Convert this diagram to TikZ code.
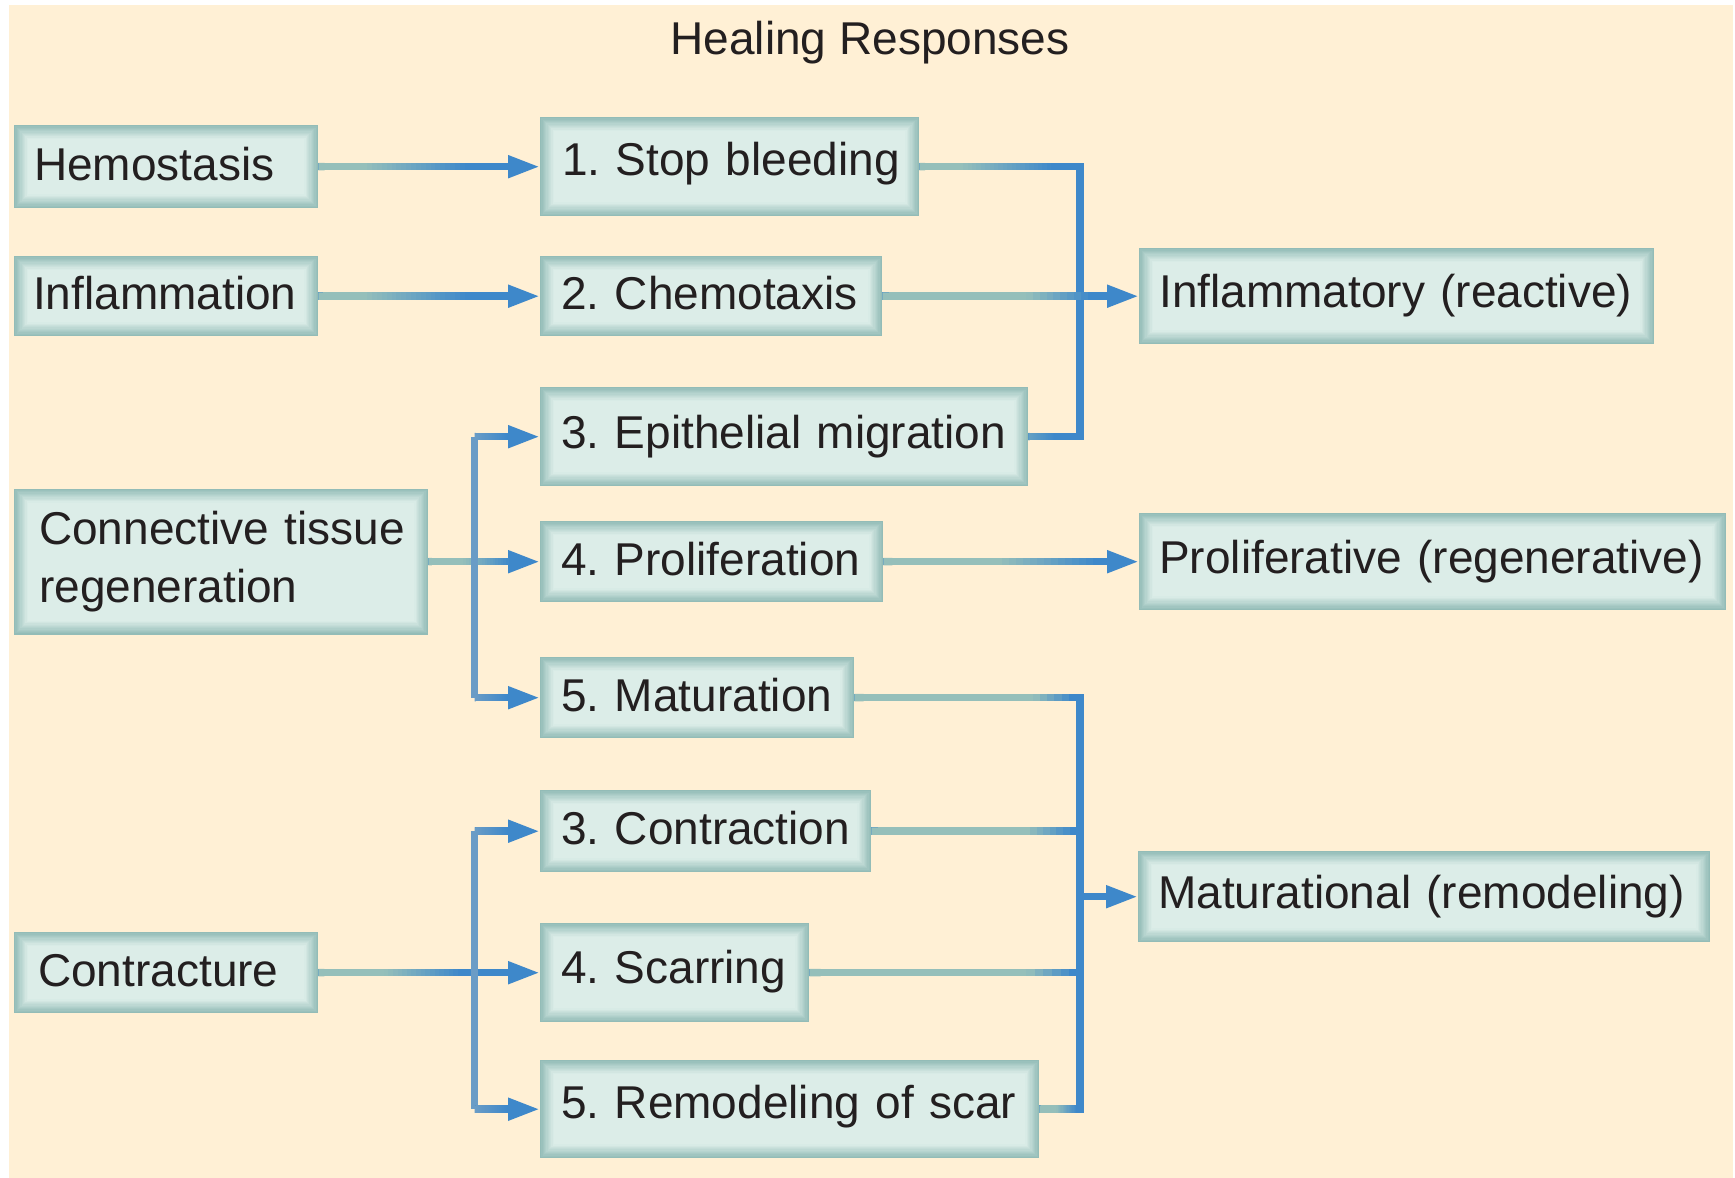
\documentclass[tikz,border=0pt]{standalone}
\usepackage{fontspec}
\setmainfont{Liberation Sans}
\usetikzlibrary{arrows.meta,calc}
\hyphenpenalty=10000
\exhyphenpenalty=10000
\frenchspacing
\definecolor{cream}{HTML}{FFF0D5}
\definecolor{boxin}{HTML}{DCEDE8}
\definecolor{boxedge}{HTML}{93BCB7}
\definecolor{lineteal}{HTML}{95BFBA}
\definecolor{lineblue}{HTML}{3E88CA}
\definecolor{busLcol}{HTML}{6A9CC6}
\definecolor{textc}{HTML}{231F20}
\newcommand{\bigfont}{\fontsize{46pt}{58pt}\selectfont\frenchspacing}
\newcommand{\boxbevel}{%
  \foreach \k in {0,...,10}{%
    \pgfmathtruncatemacro{\pc}{100-\k*9.5}%
    \draw[line width=1.4pt, draw=boxedge!\pc!boxin]
      ([xshift=\k*1.25pt+0.7pt, yshift=-\k*1.25pt-0.7pt]path picture bounding box.north west) rectangle
      ([xshift=-\k*1.25pt-0.7pt, yshift=\k*1.25pt+0.7pt]path picture bounding box.south east);
  }}
\newcommand{\gradline}[5][lineteal]{%
  \foreach \i in {0,...,29}{%
    \pgfmathsetmacro{\ta}{#5*\i/30}%
    \pgfmathsetmacro{\tb}{#5*min(30,\i+1.3)/30}%
    \pgfmathtruncatemacro{\pc}{max(0,min(100,(#5-\ta)/(#5-#4)*100))}%
    \draw[line width=7.5pt, draw=#1!\pc!lineblue] ($(#2)!\ta!(#3)$) -- ($(#2)!\tb!(#3)$);
  }}
\tikzset{
  boxbase/.style n args={3}{rectangle, fill=boxin, inner ysep=0pt, inner xsep=20pt,
    minimum width=#1pt, minimum height=#2pt, text width=#3pt, align=left,
    anchor=north west, font=\bigfont, text=textc, path picture={\boxbevel}},
  box/.style n args={3}{boxbase={#1}{#2}{#3}, text height=33pt, text depth=6pt},
  arr/.style={draw=lineblue, line width=7.5pt, -{Triangle[length=32pt,width=21pt]}},
  busline/.style={draw=lineblue, line width=7.5pt, line join=miter},
}
\begin{document}
\begin{tikzpicture}[x=1pt,y=-1pt]
\useasboundingbox (0,0) rectangle (1735,1178);
\fill[white] (0,0) rectangle (1735,1178);
\fill[cream] (9,5) rectangle (1733,1178);

\node[font=\bigfont, text=textc, text height=33pt, text depth=0pt, inner sep=0pt] (title) at (870,38) {Healing Responses};

% left column
\node[box={304}{83}{264}] (hemo) at (14,125) {\mbox{Hemostasis}};
\node[box={304}{80}{266}, inner xsep=19pt] (infl) at (14,256) {\mbox{Inflammation}};
\node[boxbase={414}{146}{364}, inner xsep=25pt] (conn) at (14,488.5) {\mbox{Connective tissue}\\\mbox{regeneration}};
\node[box={304}{81}{256}, inner xsep=24pt] (cture) at (14,932) {\mbox{Contracture}};

% middle column
\node[box={379}{99}{335}, inner xsep=22pt, text depth=16pt] (stop) at (540,117) {\mbox{1. Stop bleeding}};
\node[box={342}{80}{300}, inner xsep=21pt] (chemo) at (540,256) {\mbox{2. Chemotaxis}};
\node[box={488}{99}{446}, inner xsep=21pt, text depth=10pt] (epi) at (540,387) {\mbox{3. Epithelial migration}};
\node[box={343}{81}{301}, inner xsep=21pt] (prolif) at (540,521) {\mbox{4. Proliferation}};
\node[box={314}{81}{272}, inner xsep=21pt] (mat) at (540,657) {\mbox{5. Maturation}};
\node[box={331}{82}{289}, inner xsep=21pt] (ction) at (540,790) {\mbox{3. Contraction}};
\node[box={269}{99}{227}, inner xsep=21pt, text depth=12pt] (scar) at (540,923) {\mbox{4. Scarring}};
\node[box={499}{98}{457}, inner xsep=21pt, text depth=14pt] (remod) at (540,1060) {\mbox{5. Remodeling of scar}};

% right column
\node[box={515}{96}{475}, text depth=10pt] (inflR) at (1139,248) {\mbox{Inflammatory (reactive)}};
\node[box={587}{97}{547}, text depth=10pt] (prolR) at (1139,513) {\mbox{Proliferative (regenerative)}};
\node[box={572}{91}{532}, text depth=10pt] (matR) at (1138,851) {\mbox{Maturational (remodeling)}};

\coordinate (busR) at (1080,0);
\coordinate (busL) at (474.5,0);

% straight arrows
\draw[arr] (hemo.east) -- (stop.west);
\gradline{hemo.east}{stop.west}{0.2}{0.66}
\draw[arr] (infl.east) -- (chemo.west);
\gradline{infl.east}{chemo.west}{0.2}{0.66}
\draw[arr] (conn.east) -- (prolif.west);
\gradline{conn.east}{prolif.west}{0.3}{0.72}
\draw[arr] (cture.east) -- (scar.west);
\gradline{cture.east}{scar.west}{0.29}{0.63}
\draw[arr] (prolif.east) -- (prolR.west);
\gradline{prolif.east}{prolR.west}{0.44}{0.82}

% right bus, inflammatory
\draw[busline] (stop.east) -- (stop.east -| busR) -- (epi.east -| busR) -- (epi.east);
\gradline{stop.east}{stop.east -| busR}{0.25}{0.82}
\gradline{epi.east}{epi.east -| busR}{-0.6}{0.5}
\draw[arr] (chemo.east) -- (inflR.west);
\gradline{chemo.east}{inflR.west}{0.55}{0.8}

% left bus, connective tissue
\draw[busline, draw=busLcol, line cap=square] (epi.west -| busL) -- (mat.west -| busL);
\draw[arr] (epi.west -| busL) -- (epi.west);
\gradline[busLcol]{epi.west -| busL}{epi.west}{0}{0.5}
\draw[arr] (mat.west -| busL) -- (mat.west);
\gradline[busLcol]{mat.west -| busL}{mat.west}{0}{0.5}

% left bus, contracture
\draw[busline, draw=busLcol, line cap=square] (ction.west -| busL) -- (remod.west -| busL);
\draw[arr] (ction.west -| busL) -- (ction.west);
\gradline[busLcol]{ction.west -| busL}{ction.west}{0}{0.5}
\draw[arr] (remod.west -| busL) -- (remod.west);
\gradline[busLcol]{remod.west -| busL}{remod.west}{0}{0.5}

% right bus, maturational
\draw[busline] (mat.east) -- (mat.east -| busR) -- (remod.east -| busR) -- (remod.east);
\draw[busline] (ction.east) -- (ction.east -| busR);
\draw[busline] (scar.east) -- (scar.east -| busR);
\gradline{mat.east}{mat.east -| busR}{0.78}{0.95}
\gradline{ction.east}{ction.east -| busR}{0.73}{0.95}
\gradline{scar.east}{scar.east -| busR}{0.79}{0.96}
\gradline{remod.east}{remod.east -| busR}{0.4}{0.9}
\draw[arr] (matR.west -| busR) -- (matR.west);
\end{tikzpicture}
\end{document}
